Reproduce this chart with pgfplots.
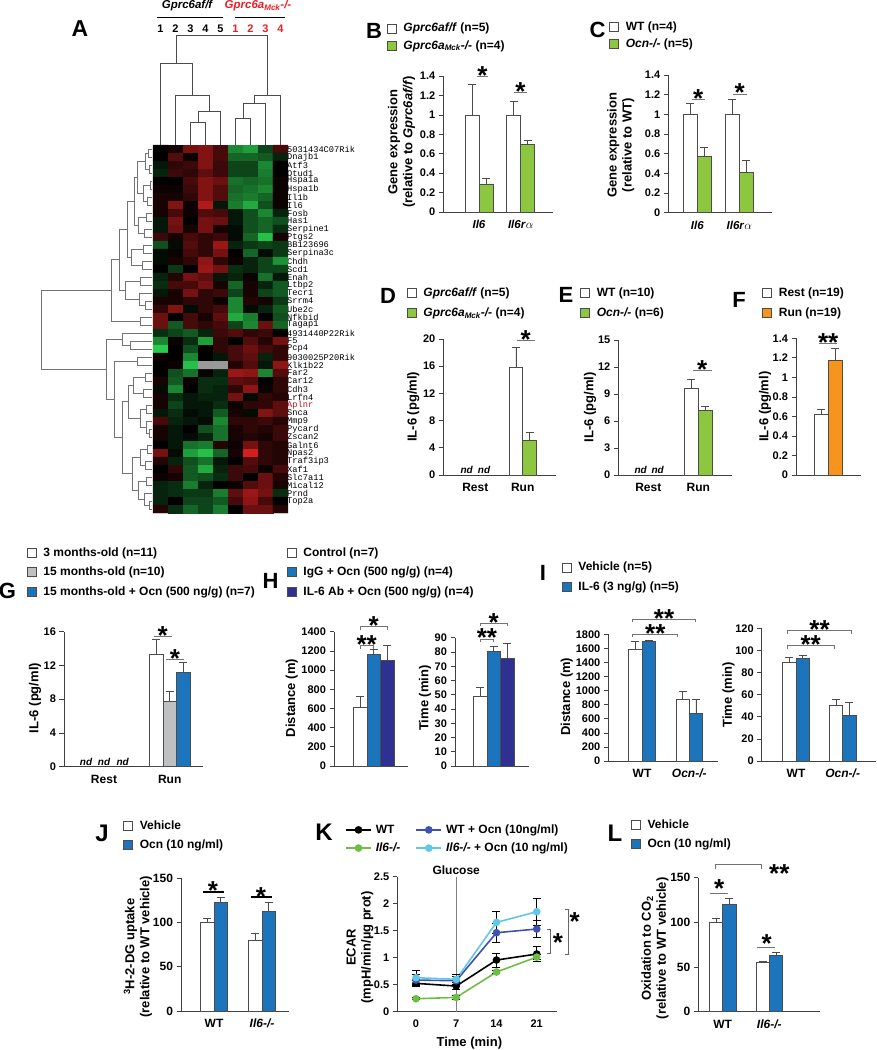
\documentclass[border=0pt]{standalone}
\usepackage{pgfplots}
\pgfplotsset{compat=1.18}
\usepackage{fontspec}
\setmainfont{Liberation Sans}
\newfontfamily\genefont{Liberation Mono}

\definecolor{hgreen}{RGB}{141,198,63}
\definecolor{horange}{RGB}{247,148,29}
\definecolor{hgray}{RGB}{190,192,194}
\definecolor{hblue}{RGB}{28,117,188}
\definecolor{hnavy}{RGB}{46,49,146}
\definecolor{kblue}{RGB}{63,81,181}
\definecolor{kgreen}{RGB}{110,190,70}
\definecolor{kcyan}{RGB}{95,200,230}
\definecolor{hred}{RGB}{237,28,36}

\newcommand{\tfont}{\bfseries\fontsize{11}{12}\selectfont}
\newcommand{\lfont}{\bfseries\fontsize{13}{15}\selectfont}
\newcommand{\gfont}{\bfseries\fontsize{12}{13}\selectfont}
\newcommand{\pfont}{\bfseries\fontsize{22}{22}\selectfont}

\tikzset{
  sigline/.style={draw=black!55, line width=0.9pt},
  sigstar/.style={font=\bfseries\fontsize{26}{26}\selectfont, anchor=base, yshift=-8pt, inner sep=0pt},
  ndlab/.style={font=\bfseries\itshape\fontsize{10}{10}\selectfont, anchor=south, inner sep=1pt},
  plet/.style={font=\pfont, inner sep=0pt, anchor=center},
  cnum/.style={font=\bfseries\fontsize{11}{11}\selectfont},
}
\pgfplotsset{
  panel/.style={
    scale only axis, anchor=south west, clip=false,
    axis x line*=bottom, axis y line*=left,
    axis line style={black!75, line width=0.7pt},
    ymin=0,
    tick align=outside, major tick length=4.5pt,
    ytick style={black!75, line width=0.7pt},
    xtick style={draw=none},
    tick label style={font=\tfont},
    xticklabel style={font=\bfseries\fontsize{12}{13}\selectfont},
    label style={font=\lfont},
    ylabel style={align=center},
    /pgf/number format/assume math mode=true,
    /pgf/number format/1000 sep={},
    scaled y ticks=false,
    legend cell align=left,
    legend style={draw=none, fill=none, font=\gfont, inner sep=0pt, row sep=3pt,
      anchor=north west, /tikz/every odd column/.append style={column sep=5pt}},
  },
  bl/.style={legend image code/.code={\draw[##1] (0pt,-4.5pt) rectangle (9pt,4.5pt);}},
  wbar/.style={fill=white, draw=black!70, line width=0.6pt, bl},
  gbar/.style={fill=hgreen, draw=black!70, line width=0.6pt, bl},
  obar/.style={fill=horange, draw=black!70, line width=0.6pt, bl},
  sbar/.style={fill=hgray, draw=black!70, line width=0.6pt, bl},
  bbar/.style={fill=hblue, draw=black!70, line width=0.6pt, bl},
  nbar/.style={fill=hnavy, draw=black!70, line width=0.6pt, bl},
  ebar/.style={error bars/.cd, y dir=plus, y explicit,
    error bar style={black!70, line width=0.6pt},
    error mark options={rotate=90, black!70, mark size=4pt, line width=0.6pt}},
  kline/.style={line width=1.6pt, mark=*, mark size=3pt,
    error bars/.cd, y dir=both, y explicit, error bar style={black, line width=0.7pt},
    error mark options={rotate=90, black, mark size=4pt, line width=0.7pt}},
  dend/.style={draw=black!70, line width=0.6pt, forget plot},
  dendl/.style={draw=black!55, line width=0.7pt, forget plot},
}
\newcommand{\dt}[5]{\addplot[dend] coordinates {(#2,#1) (#2,#3) (#4,#3) (#4,#5)};}
\newcommand{\dl}[5]{\addplot[dendl] coordinates {(#1,#2) (#3,#2) (#3,#4) (#5,#4)};}

\begin{document}
\begin{tikzpicture}
\path[use as bounding box] (0pt,0pt) rectangle (876pt,-1050pt);

% ---------------- Panel A: heatmap ----------------
\begin{axis}[scale only axis, anchor=south west, at={(153pt,-513pt)}, width=135pt, height=368pt,
  xmin=0, xmax=9, ymin=0, ymax=46, y dir=reverse, clip=false,
  axis line style={draw=none}, xtick=\empty,
  ytick={0.5,1.5,...,44.5}, yticklabel pos=right,
  ytick style={draw=none},
  yticklabel style={font=\genefont\fontsize{8.7}{8.7}\selectfont, anchor=west, xshift=-2pt, inner sep=1pt},
  yticklabels={5031434C07Rik,Dnajb1,Atf3,Otud1,Hspa1a,Hspa1b,Il1b,Il6,Fosb,Has1,Serpine1,Ptgs2,BB123696,Serpina3c,Chdh,Scd1,Enah,Ltbp2,Tecr1,Srrm4,Ube2c,Nfkbid,Tagap1,4931440P22Rik,F5,Pcp4,9030025P20Rik,Klk1b22,Far2,Car12,Cdh3,Lrfn4,\textcolor{hred!80!black}{Aplnr},Snca,Mmp9,Pycard,Zscan2,Galnt6,Npas2,Traf3ip3,Xaf1,Slc7a11,Mical12,Prnd,Top2a},
  colormap={rg}{rgb255=(45,225,85) rgb255=(0,0,0) rgb255=(235,35,35)},
  point meta min=-1, point meta max=1,
]
\addplot[matrix plot*, mesh/cols=9, point meta=explicit] coordinates {
(0.5,0.5)[0] (1.5,0.5)[0.1] (2.5,0.5)[0.5] (3.5,0.5)[0.55] (4.5,0.5)[0.3] (5.5,0.5)[-0.6] (6.5,0.5)[-0.7] (7.5,0.5)[-0.3] (8.5,0.5)[0.3]
(0.5,1.5)[0] (1.5,1.5)[0.35] (2.5,1.5)[0.05] (3.5,1.5)[0.55] (4.5,1.5)[0.3] (5.5,1.5)[-0.45] (6.5,1.5)[-0.45] (7.5,1.5)[-0.4] (8.5,1.5)[-0.15]
(0.5,2.5)[-0.1] (1.5,2.5)[0.2] (2.5,2.5)[0.25] (3.5,2.5)[0.55] (4.5,2.5)[0.25] (5.5,2.5)[-0.3] (6.5,2.5)[-0.3] (7.5,2.5)[-0.6] (8.5,2.5)[0]
(0.5,3.5)[-0.15] (1.5,3.5)[0.25] (2.5,3.5)[0.2] (3.5,3.5)[0.4] (4.5,3.5)[0.25] (5.5,3.5)[-0.3] (6.5,3.5)[-0.3] (7.5,3.5)[-0.55] (8.5,3.5)[0]
(0.5,4.5)[0] (1.5,4.5)[0] (2.5,4.5)[0.3] (3.5,4.5)[0.55] (4.5,4.5)[0.45] (5.5,4.5)[-0.5] (6.5,4.5)[-0.45] (7.5,4.5)[-0.5] (8.5,4.5)[0.05]
(0.5,5.5)[0.05] (1.5,5.5)[0.05] (2.5,5.5)[0.25] (3.5,5.5)[0.55] (4.5,5.5)[0.35] (5.5,5.5)[-0.45] (6.5,5.5)[-0.5] (7.5,5.5)[-0.6] (8.5,5.5)[0.05]
(0.5,6.5)[0.1] (1.5,6.5)[0.1] (2.5,6.5)[0.2] (3.5,6.5)[0.55] (4.5,6.5)[0.35] (5.5,6.5)[-0.5] (6.5,6.5)[-0.55] (7.5,6.5)[-0.45] (8.5,6.5)[0.05]
(0.5,7.5)[0.1] (1.5,7.5)[0.55] (2.5,7.5)[0.05] (3.5,7.5)[0.75] (4.5,7.5)[-0.1] (5.5,7.5)[-0.55] (6.5,7.5)[-0.75] (7.5,7.5)[-0.35] (8.5,7.5)[0.05]
(0.5,8.5)[0.1] (1.5,8.5)[0.3] (2.5,8.5)[0.05] (3.5,8.5)[0.35] (4.5,8.5)[0.3] (5.5,8.5)[-0.1] (6.5,8.5)[-0.35] (7.5,8.5)[-0.6] (8.5,8.5)[-0.15]
(0.5,9.5)[-0.1] (1.5,9.5)[0.5] (2.5,9.5)[0] (3.5,9.5)[0.5] (4.5,9.5)[0.45] (5.5,9.5)[-0.1] (6.5,9.5)[-0.35] (7.5,9.5)[-0.45] (8.5,9.5)[-0.35]
(0.5,10.5)[-0.1] (1.5,10.5)[0.45] (2.5,10.5)[0.1] (3.5,10.5)[0.5] (4.5,10.5)[0.1] (5.5,10.5)[-0.05] (6.5,10.5)[-0.35] (7.5,10.5)[-0.45] (8.5,10.5)[-0.2]
(0.5,11.5)[0.25] (1.5,11.5)[0.1] (2.5,11.5)[0.3] (3.5,11.5)[0.2] (4.5,11.5)[0.25] (5.5,11.5)[-0.05] (6.5,11.5)[-0.45] (7.5,11.5)[-0.85] (8.5,11.5)[0.1]
(0.5,12.5)[-0.35] (1.5,12.5)[-0.05] (2.5,12.5)[0.35] (3.5,12.5)[0.2] (4.5,12.5)[0.65] (5.5,12.5)[-0.15] (6.5,12.5)[-0.25] (7.5,12.5)[-0.3] (8.5,12.5)[-0.25]
(0.5,13.5)[-0.05] (1.5,13.5)[0.05] (2.5,13.5)[0.3] (3.5,13.5)[0.2] (4.5,13.5)[0.5] (5.5,13.5)[0] (6.5,13.5)[-0.45] (7.5,13.5)[-0.05] (8.5,13.5)[-0.25]
(0.5,14.5)[-0.05] (1.5,14.5)[0.1] (2.5,14.5)[0.2] (3.5,14.5)[0.6] (4.5,14.5)[0.2] (5.5,14.5)[0.05] (6.5,14.5)[-0.15] (7.5,14.5)[-0.3] (8.5,14.5)[-0.65]
(0.5,15.5)[0] (1.5,15.5)[-0.25] (2.5,15.5)[0] (3.5,15.5)[0.65] (4.5,15.5)[0.5] (5.5,15.5)[-0.2] (6.5,15.5)[-0.15] (7.5,15.5)[-0.3] (8.5,15.5)[-0.3]
(0.5,16.5)[-0.15] (1.5,16.5)[0.15] (2.5,16.5)[0.5] (3.5,16.5)[0.4] (4.5,16.5)[-0.1] (5.5,16.5)[-0.15] (6.5,16.5)[0.05] (7.5,16.5)[-0.5] (8.5,16.5)[-0.1]
(0.5,17.5)[-0.2] (1.5,17.5)[0.3] (2.5,17.5)[0.3] (3.5,17.5)[0.5] (4.5,17.5)[0.1] (5.5,17.5)[-0.45] (6.5,17.5)[0.1] (7.5,17.5)[-0.15] (8.5,17.5)[-0.4]
(0.5,18.5)[-0.1] (1.5,18.5)[0.1] (2.5,18.5)[0.5] (3.5,18.5)[0.2] (4.5,18.5)[0.25] (5.5,18.5)[-0.3] (6.5,18.5)[0.1] (7.5,18.5)[-0.3] (8.5,18.5)[-0.4]
(0.5,19.5)[0.1] (1.5,19.5)[0.1] (2.5,19.5)[0.2] (3.5,19.5)[0.2] (4.5,19.5)[0.05] (5.5,19.5)[-0.6] (6.5,19.5)[0.15] (7.5,19.5)[0.1] (8.5,19.5)[-0.25]
(0.5,20.5)[0.2] (1.5,20.5)[0.55] (2.5,20.5)[-0.05] (3.5,20.5)[0.2] (4.5,20.5)[0.3] (5.5,20.5)[-0.6] (6.5,20.5)[-0.05] (7.5,20.5)[-0.15] (8.5,20.5)[-0.4]
(0.5,21.5)[0.45] (1.5,21.5)[0] (2.5,21.5)[0.3] (3.5,21.5)[0.1] (4.5,21.5)[0.4] (5.5,21.5)[-0.75] (6.5,21.5)[-0.55] (7.5,21.5)[0] (8.5,21.5)[-0.35]
(0.5,22.5)[0.45] (1.5,22.5)[-0.4] (2.5,22.5)[0.3] (3.5,22.5)[0.2] (4.5,22.5)[0.3] (5.5,22.5)[-0.3] (6.5,22.5)[-0.6] (7.5,22.5)[0.45] (8.5,22.5)[-0.45]
(0.5,23.5)[-0.2] (1.5,23.5)[-0.3] (2.5,23.5)[-0.4] (3.5,23.5)[-0.15] (4.5,23.5)[0.25] (5.5,23.5)[0.35] (6.5,23.5)[0.2] (7.5,23.5)[0.25] (8.5,23.5)[0]
(0.5,24.5)[-0.6] (1.5,24.5)[0.05] (2.5,24.5)[-0.2] (3.5,24.5)[-0.7] (4.5,24.5)[0.2] (5.5,24.5)[0] (6.5,24.5)[0.35] (7.5,24.5)[0.15] (8.5,24.5)[0.5]
(0.5,25.5)[-0.9] (1.5,25.5)[0] (2.5,25.5)[-0.35] (3.5,25.5)[0] (4.5,25.5)[0.2] (5.5,25.5)[0.3] (6.5,25.5)[0.45] (7.5,25.5)[0.3] (8.5,25.5)[0.2]
(0.5,26.5)[0.05] (1.5,26.5)[0] (2.5,26.5)[-0.6] (3.5,26.5)[0] (4.5,26.5)[-0.1] (5.5,26.5)[0.3] (6.5,26.5)[0.4] (7.5,26.5)[-0.15] (8.5,26.5)[0.2]
(0.5,27.5)[0] (1.5,27.5)[0.05] (2.5,27.5)[-0.85] (3.5,27.5)[0] (4.5,27.5)[0] (5.5,27.5)[0.15] (6.5,27.5)[0.35] (7.5,27.5)[-0.1] (8.5,27.5)[0.6]
(0.5,28.5)[0] (1.5,28.5)[-0.35] (2.5,28.5)[-0.5] (3.5,28.5)[0.05] (4.5,28.5)[-0.15] (5.5,28.5)[0.65] (6.5,28.5)[0.6] (7.5,28.5)[-0.6] (8.5,28.5)[0.35]
(0.5,29.5)[0.1] (1.5,29.5)[-0.4] (2.5,29.5)[0.05] (3.5,29.5)[-0.2] (4.5,29.5)[-0.2] (5.5,29.5)[0.4] (6.5,29.5)[0.35] (7.5,29.5)[0] (8.5,29.5)[0.2]
(0.5,30.5)[-0.05] (1.5,30.5)[-0.6] (2.5,30.5)[0] (3.5,30.5)[-0.2] (4.5,30.5)[-0.15] (5.5,30.5)[0.2] (6.5,30.5)[0.6] (7.5,30.5)[0.05] (8.5,30.5)[0.2]
(0.5,31.5)[0.1] (1.5,31.5)[-0.2] (2.5,31.5)[-0.1] (3.5,31.5)[-0.15] (4.5,31.5)[-0.15] (5.5,31.5)[0.5] (6.5,31.5)[-0.05] (7.5,31.5)[0.2] (8.5,31.5)[0.15]
(0.5,32.5)[0.1] (1.5,32.5)[-0.3] (2.5,32.5)[-0.1] (3.5,32.5)[-0.1] (4.5,32.5)[-0.2] (5.5,32.5)[0.05] (6.5,32.5)[0.2] (7.5,32.5)[0.2] (8.5,32.5)[0.4]
(0.5,33.5)[-0.1] (1.5,33.5)[-0.2] (2.5,33.5)[-0.05] (3.5,33.5)[-0.1] (4.5,33.5)[-0.4] (5.5,33.5)[0.1] (6.5,33.5)[-0.05] (7.5,33.5)[0.55] (8.5,33.5)[0.4]
(0.5,34.5)[0.3] (1.5,34.5)[-0.15] (2.5,34.5)[-0.1] (3.5,34.5)[-0.05] (4.5,34.5)[-0.6] (5.5,34.5)[0.2] (6.5,34.5)[0.2] (7.5,34.5)[0.25] (8.5,34.5)[0.15]
(0.5,35.5)[0.1] (1.5,35.5)[-0.1] (2.5,35.5)[0] (3.5,35.5)[-0.35] (4.5,35.5)[-0.5] (5.5,35.5)[0.1] (6.5,35.5)[0.2] (7.5,35.5)[0.15] (8.5,35.5)[0.25]
(0.5,36.5)[0.1] (1.5,36.5)[-0.1] (2.5,36.5)[-0.05] (3.5,36.5)[-0.15] (4.5,36.5)[-0.5] (5.5,36.5)[0.1] (6.5,36.5)[0.15] (7.5,36.5)[0.1] (8.5,36.5)[0.25]
(0.5,37.5)[0] (1.5,37.5)[-0.1] (2.5,37.5)[-0.5] (3.5,37.5)[-0.55] (4.5,37.5)[0.15] (5.5,37.5)[0.05] (6.5,37.5)[0.5] (7.5,37.5)[0.2] (8.5,37.5)[0.15]
(0.5,38.5)[0.5] (1.5,38.5)[-0.05] (2.5,38.5)[-0.7] (3.5,38.5)[-0.85] (4.5,38.5)[-0.45] (5.5,38.5)[0.1] (6.5,38.5)[0.9] (7.5,38.5)[0.2] (8.5,38.5)[0.15]
(0.5,39.5)[0.15] (1.5,39.5)[-0.15] (2.5,39.5)[-0.35] (3.5,39.5)[-0.5] (4.5,39.5)[-0.1] (5.5,39.5)[0] (6.5,39.5)[0.35] (7.5,39.5)[0.2] (8.5,39.5)[0.15]
(0.5,40.5)[0] (1.5,40.5)[0.2] (2.5,40.5)[-0.4] (3.5,40.5)[-0.75] (4.5,40.5)[-0.15] (5.5,40.5)[0.25] (6.5,40.5)[0.3] (7.5,40.5)[0.05] (8.5,40.5)[0.3]
(0.5,41.5)[0.05] (1.5,41.5)[0.1] (2.5,41.5)[-0.4] (3.5,41.5)[-0.35] (4.5,41.5)[-0.2] (5.5,41.5)[0.25] (6.5,41.5)[0] (7.5,41.5)[0.45] (8.5,41.5)[0.15]
(0.5,42.5)[-0.15] (1.5,42.5)[-0.2] (2.5,42.5)[-0.55] (3.5,42.5)[-0.15] (4.5,42.5)[0] (5.5,42.5)[0.05] (6.5,42.5)[0.35] (7.5,42.5)[0.45] (8.5,42.5)[0.1]
(0.5,43.5)[-0.15] (1.5,43.5)[-0.2] (2.5,43.5)[-0.25] (3.5,43.5)[-0.25] (4.5,43.5)[-0.55] (5.5,43.5)[0.4] (6.5,43.5)[0.65] (7.5,43.5)[0.5] (8.5,43.5)[-0.2]
(0.5,44.5)[-0.15] (1.5,44.5)[0] (2.5,44.5)[-0.3] (3.5,44.5)[-0.3] (4.5,44.5)[-0.4] (5.5,44.5)[0.3] (6.5,44.5)[0.6] (7.5,44.5)[0.3] (8.5,44.5)[0]
(0.5,45.5)[0.15] (1.5,45.5)[-0.2] (2.5,45.5)[-0.45] (3.5,45.5)[-0.3] (4.5,45.5)[-0.55] (5.5,45.5)[0] (6.5,45.5)[0.45] (7.5,45.5)[0.45] (8.5,45.5)[0.15]
};
\addplot[fill=black!40, draw=none, forget plot] coordinates {(3,27) (5,27) (5,28) (3,28) (3,27)};
% column dendrogram
\dt{0}{2.5}{-2.84}{3.5}{0}
\dt{-2.84}{3.0}{-4.25}{4.5}{0}
\dt{0}{1.5}{-6.16}{3.75}{-4.25}
\dt{0}{0.5}{-10.21}{2.625}{-6.16}
\dt{0}{5.5}{-3.34}{6.5}{0}
\dt{-3.34}{6.0}{-5.21}{7.5}{0}
\dt{-5.21}{6.75}{-6.16}{8.5}{0}
\dt{-10.21}{1.5625}{-13.66}{7.625}{-6.16}
% headers
\node[font=\bfseries\itshape\fontsize{11.5}{12}\selectfont] at (axis cs:2.27,-17.4) {Gprc6af/f};
\node[font=\bfseries\itshape\fontsize{11.5}{12}\selectfont, text=hred] at (axis cs:7.0,-17.4) {Gprc6a\textsubscript{Mck}-/-};
\draw[black, line width=1pt] (axis cs:0.27,-16) -- (axis cs:4.67,-16);
\draw[black, line width=1pt] (axis cs:5.47,-16) -- (axis cs:8.8,-16);
\node[cnum] at (axis cs:0.5,-14.5) {1};
\node[cnum] at (axis cs:1.5,-14.5) {2};
\node[cnum] at (axis cs:2.5,-14.5) {3};
\node[cnum] at (axis cs:3.5,-14.5) {4};
\node[cnum] at (axis cs:4.5,-14.5) {5};
\node[cnum, text=hred] at (axis cs:5.5,-14.5) {1};
\node[cnum, text=hred] at (axis cs:6.5,-14.5) {2};
\node[cnum, text=hred] at (axis cs:7.5,-14.5) {3};
\node[cnum, text=hred] at (axis cs:8.5,-14.5) {4};
\end{axis}

% row dendrogram
\begin{axis}[scale only axis, anchor=south west, at={(0pt,-513pt)}, width=153pt, height=368pt,
  xmin=0, xmax=153, ymin=0, ymax=46, y dir=reverse, hide axis, clip=false]
\dl{152}{0.5}{148}{1.5}{152}
\dl{152}{2.5}{149}{3.5}{152}
\dl{148}{1.0}{145}{3.0}{149}
\dl{152}{4.5}{150}{5.5}{152}
\dl{152}{6.5}{147}{7.5}{152}
\dl{150}{5.0}{143}{7.0}{147}
\dl{145}{2.0}{137}{6.0}{143}
\dl{152}{8.5}{146}{9.5}{152}
\dl{152}{10.5}{144}{11.5}{152}
\dl{146}{9.0}{138}{11.0}{144}
\dl{137}{4.0}{134}{10.0}{138}
\dl{152}{12.5}{143}{13.5}{152}
\dl{152}{14.5}{142}{15.5}{152}
\dl{143}{13.0}{131}{15.0}{142}
\dl{134}{7.0}{127}{14.0}{131}
\dl{152}{16.5}{140}{17.5}{152}
\dl{152}{19.5}{145}{20.5}{152}
\dl{152}{18.5}{139}{20.0}{145}
\dl{140}{17.0}{125}{19.25}{139}
\dl{127}{10.5}{119}{18.125}{125}
\dl{152}{21.5}{140}{22.5}{152}
\dl{119}{14.31}{111}{22.0}{140}
\dl{152}{24.5}{130}{25.5}{152}
\dl{152}{23.5}{122}{25.0}{130}
\dl{152}{26.5}{137}{27.5}{152}
\dl{152}{28.5}{145}{29.5}{152}
\dl{152}{30.5}{143}{31.5}{152}
\dl{145}{29.0}{133}{31.0}{143}
\dl{152}{32.5}{146}{33.5}{152}
\dl{152}{35.5}{149}{36.5}{152}
\dl{152}{34.5}{146}{36.0}{149}
\dl{146}{33.0}{140}{35.25}{146}
\dl{133}{30.0}{128}{34.125}{140}
\dl{152}{37.5}{147}{38.5}{152}
\dl{152}{39.5}{145}{40.5}{152}
\dl{147}{38.0}{140}{40.0}{145}
\dl{152}{41.5}{146}{42.5}{152}
\dl{152}{44.5}{149}{45.5}{152}
\dl{152}{43.5}{144}{45.0}{149}
\dl{146}{42.0}{138}{44.25}{144}
\dl{140}{39.0}{132}{43.125}{138}
\dl{128}{32.06}{122}{41.06}{132}
\dl{137}{27.0}{114}{36.56}{122}
\dl{122}{24.25}{106}{31.78}{114}
\dl{111}{18.16}{41.7}{28.02}{106}
\end{axis}
\node[plet, font=\bfseries\fontsize{23}{23}\selectfont] at (80pt,-29pt) {A};

% ---------------- Panel B ----------------
\begin{axis}[panel, at={(443.3pt,-212pt)}, width=110pt, height=136pt,
  xmin=0, xmax=110, ymax=1.4, ytick={0,0.2,0.4,0.6,0.8,1,1.2,1.4},
  ybar=0pt, bar width=14pt,
  xtick={35.7,77.4}, xticklabels={\textit{Il6},\textit{Il6r}$\alpha$},
  xticklabel style={font=\bfseries\fontsize{11.5}{12}\selectfont},
  ylabel={Gene expression\\(relative to \textit{Gprc6af/f})},
  ylabel style={at={(axis description cs:-0.38,0.515)}, anchor=center},
  legend style={at={(axis description cs:-0.515,1.404)}}]
\addplot[wbar, ebar] coordinates {(35.7,1.0) +- (0,0.31) (77.4,1.0) +- (0,0.14)};
\addplot[gbar, ebar] coordinates {(35.7,0.29) +- (0,0.06) (77.4,0.70) +- (0,0.04)};
\legend{\textit{Gprc6af/f} (n=5), \textit{Gprc6a\textsubscript{Mck}-/-} (n=4)}
\draw[sigline] (axis cs:33.4,1.4) -- (axis cs:45,1.4);
\node[sigstar] at (axis cs:39.2,1.4) {*};
\draw[sigline] (axis cs:70.7,1.228) -- (axis cs:83.7,1.228);
\node[sigstar] at (axis cs:77.2,1.228) {*};
\end{axis}
\node[plet] at (374pt,-31pt) {B};

% ---------------- Panel C ----------------
\begin{axis}[panel, at={(668.3pt,-212.7pt)}, width=103.4pt, height=137.7pt,
  xmin=0, xmax=103.4, ymax=1.4, ytick={0,0.2,0.4,0.6,0.8,1,1.2,1.4},
  ybar=0pt, bar width=14pt,
  xtick={29,71}, xticklabels={\textit{Il6},\textit{Il6r}$\alpha$},
  xticklabel style={font=\bfseries\fontsize{11.5}{12}\selectfont},
  ylabel={Gene expression\\(relative to WT)},
  ylabel style={at={(axis description cs:-0.459,0.49)}, anchor=center},
  legend style={at={(axis description cs:-0.573,1.401)}}]
\addplot[wbar, ebar] coordinates {(29,1.0) +- (0,0.11) (71,1.0) +- (0,0.15)};
\addplot[gbar, ebar] coordinates {(29,0.57) +- (0,0.10) (71,0.41) +- (0,0.12)};
\legend{WT (n=4), \textit{Ocn-/-} (n=5)}
\draw[sigline] (axis cs:23.4,1.153) -- (axis cs:36.7,1.153);
\node[sigstar] at (axis cs:30,1.153) {*};
\draw[sigline] (axis cs:64.7,1.207) -- (axis cs:78.4,1.207);
\node[sigstar] at (axis cs:71.5,1.207) {*};
\end{axis}
\node[plet] at (597.5pt,-30pt) {C};

% ---------------- Panel D ----------------
\begin{axis}[panel, at={(443.3pt,-475pt)}, width=112.7pt, height=136pt,
  xmin=0, xmax=112.7, ymax=20, ytick={0,4,8,12,16,20},
  ybar=0pt, bar width=13.7pt,
  xtick={32,79.4}, xticklabels={Rest,Run},
  ylabel={IL-6 (pg/ml)},
  ylabel style={at={(axis description cs:-0.266,0.502)}, anchor=center},
  legend style={at={(axis description cs:-0.325,1.392)}, row sep=6pt}]
\addplot[wbar, ebar] coordinates {(79.4,15.9) +- (0,2.9)};
\addplot[gbar, ebar] coordinates {(79.4,5.1) +- (0,1.2)};
\legend{\textit{Gprc6af/f} (n=5), \textit{Gprc6a\textsubscript{Mck}-/-} (n=4)}
\node[ndlab] at (axis cs:23.4,0) {nd};
\node[ndlab] at (axis cs:40.7,0) {nd};
\draw[sigline] (axis cs:73.4,19.75) -- (axis cs:91.7,19.75);
\node[sigstar] at (axis cs:82.5,19.75) {*};
\end{axis}
\node[plet] at (388pt,-295.5pt) {D};

% ---------------- Panel E ----------------
\begin{axis}[panel, at={(618.3pt,-475pt)}, width=113.4pt, height=135pt,
  xmin=0, xmax=113.4, ymax=15, ytick={0,3,6,9,12,15},
  ybar=0pt, bar width=13.7pt,
  xtick={30,80}, xticklabels={Rest,Run},
  ylabel={IL-6 (pg/ml)},
  ylabel style={at={(axis description cs:-0.25,0.5)}, anchor=center},
  legend style={at={(axis description cs:-0.338,1.402)}, row sep=6pt}]
\addplot[wbar, ebar] coordinates {(80,9.63) +- (0,0.97)};
\addplot[gbar, ebar] coordinates {(80,7.22) +- (0,0.45)};
\legend{WT (n=10), \textit{Ocn-/-} (n=6)}
\node[ndlab] at (axis cs:22.4,0) {nd};
\node[ndlab] at (axis cs:39.4,0) {nd};
\draw[sigline] (axis cs:74.7,11.59) -- (axis cs:93.4,11.59);
\node[sigstar] at (axis cs:84,11.59) {*};
\end{axis}
\node[plet] at (566pt,-295pt) {E};

% ---------------- Panel F ----------------
\begin{axis}[panel, at={(796pt,-475pt)}, width=64.7pt, height=136.7pt,
  xmin=0, xmax=64.7, ymax=1.4, ytick={0,0.2,0.4,0.6,0.8,1,1.2,1.4},
  ybar=0pt, bar width=14pt,
  xtick=\empty,
  ylabel={IL-6 (pg/ml)},
  ylabel style={at={(axis description cs:-0.479,0.5)}, anchor=center},
  legend style={at={(axis description cs:-0.525,1.385)}, row sep=6pt}]
\addplot[wbar, ebar] coordinates {(32.3,0.62) +- (0,0.05)};
\addplot[obar, ebar] coordinates {(32.3,1.17) +- (0,0.13)};
\legend{Rest (n=19), Run (n=19)}
\draw[sigline] (axis cs:23,1.349) -- (axis cs:41.3,1.349);
\node[sigstar] at (axis cs:32.2,1.349) {**};
\end{axis}
\node[plet] at (739pt,-300pt) {F};

% ---------------- Panel G ----------------
\begin{axis}[panel, at={(64pt,-766.7pt)}, width=138.7pt, height=135pt,
  xmin=0, xmax=138.7, ymax=16, ytick={0,4,8,12,16},
  ybar=0pt, bar width=13.5pt,
  xtick={40,105.7}, xticklabels={Rest,Run},
  ylabel={IL-6 (pg/ml)},
  ylabel style={at={(axis description cs:-0.209,0.509)}, anchor=center},
  legend style={at={(axis description cs:-0.269,1.637)}, row sep=5pt}]
\addplot[wbar, ebar] coordinates {(105.7,13.35) +- (0,1.75)};
\addplot[sbar, ebar] coordinates {(105.7,7.7) +- (0,1.27)};
\addplot[bbar, ebar] coordinates {(105.7,11.18) +- (0,1.15)};
\legend{3 months-old (n=11), 15 months-old (n=10), 15 months-old + Ocn (500 ng/g) (n=7)}
\node[ndlab] at (axis cs:22,0) {nd};
\node[ndlab] at (axis cs:40,0) {nd};
\node[ndlab] at (axis cs:58.7,0) {nd};
\draw[sigline] (axis cs:90,15.49) -- (axis cs:107.7,15.49);
\node[sigstar] at (axis cs:98.8,15.49) {*};
\draw[sigline] (axis cs:102,12.76) -- (axis cs:120,12.76);
\node[sigstar] at (axis cs:111,12.76) {*};
\end{axis}
\node[plet] at (7.5pt,-590.5pt) {G};

% ---------------- Panel H ----------------
\begin{axis}[panel, at={(334pt,-766pt)}, width=74.3pt, height=134.3pt,
  xmin=0, xmax=74.3, ymax=1400, ytick={0,200,400,600,800,1000,1200,1400},
  ybar=0pt, bar width=13.5pt,
  xtick=\empty,
  ylabel={Distance (m)},
  ylabel style={at={(axis description cs:-0.569,0.506)}, anchor=center},
  legend style={at={(axis description cs:-0.637,1.640)}, row sep=5pt}]
\addplot[wbar, ebar] coordinates {(39.7,611) +- (0,119)};
\addplot[bbar, ebar] coordinates {(39.7,1167) +- (0,52)};
\addplot[nbar, ebar] coordinates {(39.7,1098) +- (0,156)};
\legend{Control (n=7), IgG + Ocn (500 ng/g) (n=4), IL-6 Ab + Ocn (500 ng/g) (n=4)}
\draw[sigline] ([yshift=-3pt]axis cs:26,1256) -- (axis cs:26,1256) -- (axis cs:39.3,1256) -- ([yshift=-3pt]axis cs:39.3,1256);
\node[sigstar] at (axis cs:32.7,1256) {**};
\draw[sigline] ([yshift=-3pt]axis cs:26,1452) -- (axis cs:26,1452) -- (axis cs:53.3,1452) -- ([yshift=-3pt]axis cs:53.3,1452);
\node[sigstar] at (axis cs:39.7,1452) {*};
\end{axis}
\begin{axis}[panel, at={(455pt,-766pt)}, width=74.3pt, height=128.3pt,
  xmin=0, xmax=74.3, ymax=90, ytick={0,10,20,30,40,50,60,70,80,90},
  ybar=0pt, bar width=13.6pt,
  xtick=\empty,
  ylabel={Time (min)},
  ylabel style={at={(axis description cs:-0.404,0.53)}, anchor=center}]
\addplot[wbar, ebar] coordinates {(38.7,48.6) +- (0,6.3)};
\addplot[bbar, ebar] coordinates {(38.7,80.4) +- (0,3.8)};
\addplot[nbar, ebar] coordinates {(38.7,75.5) +- (0,10.5)};
\draw[sigline] ([yshift=-3pt]axis cs:25,89.1) -- (axis cs:25,89.1) -- (axis cs:38.7,89.1) -- ([yshift=-3pt]axis cs:38.7,89.1);
\node[sigstar] at (axis cs:31.9,89.1) {**};
\draw[sigline] ([yshift=-3pt]axis cs:25,100.1) -- (axis cs:25,100.1) -- (axis cs:52.5,100.1) -- ([yshift=-3pt]axis cs:52.5,100.1);
\node[sigstar] at (axis cs:38.7,100.1) {*};
\end{axis}
\node[plet] at (270.5pt,-581pt) {H};

% ---------------- Panel I ----------------
\begin{axis}[panel, at={(608.3pt,-761pt)}, width=110pt, height=126.7pt,
  xmin=0, xmax=110, ymax=1800, ytick={0,200,400,600,800,1000,1200,1400,1600,1800},
  ybar=0pt, bar width=13.3pt,
  xtick={33.7,81}, xticklabels={WT,\textit{Ocn-/-}},
  ylabel={Distance (m)},
  ylabel style={at={(axis description cs:-0.378,0.507)}, anchor=center},
  legend style={at={(axis description cs:-0.424,1.586)}, row sep=5pt}]
\addplot[wbar, ebar] coordinates {(33.7,1592) +- (0,105) (81,877) +- (0,109)};
\addplot[bbar, ebar] coordinates {(33.7,1701) +- (0,10) (81,682) +- (0,199)};
\legend{Vehicle (n=5), IL-6 (3 ng/g) (n=5)}
\draw[sigline] ([yshift=-3pt]axis cs:24.4,1804) -- (axis cs:24.4,1804) -- (axis cs:69.4,1804) -- ([yshift=-3pt]axis cs:69.4,1804);
\node[sigstar] at (axis cs:47,1804) {**};
\draw[sigline] ([yshift=-3pt]axis cs:24.4,2013) -- (axis cs:24.4,2013) -- (axis cs:87,2013) -- ([yshift=-3pt]axis cs:87,2013);
\node[sigstar] at (axis cs:55.7,2013) {**};
\end{axis}
\begin{axis}[panel, at={(761.7pt,-761pt)}, width=114pt, height=132.7pt,
  xmin=0, xmax=114, ymax=120, ytick={0,20,40,60,80,100,120},
  ybar=0pt, bar width=13.3pt,
  xtick={34.3,81}, xticklabels={WT,\textit{Ocn-/-}},
  ylabel={Time (min)},
  ylabel style={at={(axis description cs:-0.292,0.5)}, anchor=center}]
\addplot[wbar, ebar] coordinates {(34.3,89) +- (0,5) (81,50) +- (0,6)};
\addplot[bbar, ebar] coordinates {(34.3,93) +- (0,3) (81,41) +- (0,12)};
\draw[sigline] ([yshift=-3pt]axis cs:25.6,104.3) -- (axis cs:25.6,104.3) -- (axis cs:72.3,104.3) -- ([yshift=-3pt]axis cs:72.3,104.3);
\node[sigstar] at (axis cs:49,104.3) {**};
\draw[sigline] ([yshift=-3pt]axis cs:25.6,117.8) -- (axis cs:25.6,117.8) -- (axis cs:90,117.8) -- ([yshift=-3pt]axis cs:90,117.8);
\node[sigstar] at (axis cs:57.8,117.8) {**};
\end{axis}
\node[plet] at (543pt,-572.5pt) {I};

% ---------------- Panel J ----------------
\begin{axis}[panel, at={(181pt,-1011pt)}, width=107.6pt, height=132.7pt,
  xmin=0, xmax=107.6, ymax=150, ytick={0,50,100,150},
  ybar=0pt, bar width=13.5pt,
  tick label style={font=\bfseries\fontsize{12}{13}\selectfont},
  xtick={33,81}, xticklabels={WT,\textit{Il6-/-}},
  ylabel={\textsuperscript{3}H-2-DG uptake\\(relative to WT vehicle)},
  ylabel style={at={(axis description cs:-0.40,0.485)}, anchor=center},
  legend style={at={(axis description cs:-0.539,1.449)}, row sep=5pt}]
\addplot[wbar, ebar] coordinates {(33,100) +- (0,4.8) (81,79.5) +- (0,8.3)};
\addplot[bbar, ebar] coordinates {(33,122.5) +- (0,6) (81,112.7) +- (0,10.5)};
\legend{Vehicle, Ocn (10 ng/ml)}
\draw[black, line width=2.2pt] (axis cs:21.6,134.9) -- (axis cs:42.5,134.9);
\node[sigstar] at (axis cs:32,134.9) {*};
\draw[black, line width=2.2pt] (axis cs:69.7,128.5) -- (axis cs:90.6,128.5);
\node[sigstar] at (axis cs:80,128.5) {*};
\end{axis}
\node[plet, font=\bfseries\fontsize{24}{24}\selectfont] at (102pt,-833pt) {J};

% ---------------- Panel K ----------------
\begin{axis}[panel, at={(397.3pt,-1011.7pt)}, width=159.4pt, height=135pt,
  xmin=-3.25, xmax=24.47, ymax=2.5, ytick={0,0.5,1,1.5,2,2.5}, xtick={0,7,14,21},
  xtick style={draw=none},
  xticklabel style={font=\tfont},
  xlabel={Time (min)},
  xlabel style={at={(axis description cs:0.452,-0.234)}, anchor=center},
  ylabel={ECAR\\(mpH/min/µg prot)},
  ylabel style={at={(axis description cs:-0.234,0.476)}, anchor=center},
  legend columns=2,
  legend style={at={(axis description cs:-0.328,1.401)}, row sep=4pt,
    /tikz/every odd column/.append style={column sep=2pt},
    /tikz/every even column/.append style={column sep=13pt}},
  legend image code/.code={\draw[#1,mark repeat=2,mark phase=2] plot coordinates {(0pt,0pt) (12.5pt,0pt) (25pt,0pt)};}]
\addplot[gray, line width=0.5pt, forget plot] coordinates {(7,0) (7,2.5)};
\addplot[black, kline]
  coordinates {(0,0.525) +- (0,0.06) (7,0.475) +- (0,0.07) (14,0.957) +- (0,0.13) (21,1.068) +- (0,0.14)};
\addplot[kblue, kline]
  coordinates {(0,0.586) +- (0,0.10) (7,0.574) +- (0,0.09) (14,1.463) +- (0,0.18) (21,1.531) +- (0,0.16)};
\addplot[kgreen, kline]
  coordinates {(0,0.24) +- (0,0.02) (7,0.265) +- (0,0.03) (14,0.735) +- (0,0.03) (21,1.012) +- (0,0.05)};
\addplot[kcyan, kline]
  coordinates {(0,0.63) +- (0,0.13) (7,0.60) +- (0,0.09) (14,1.654) +- (0,0.21) (21,1.852) +- (0,0.25)};
\legend{WT, WT + Ocn (10ng/ml), \textit{Il6-/-}, \textit{Il6-/-} + Ocn (10 ng/ml)}
\node[font=\bfseries\fontsize{12}{13}\selectfont, anchor=south, inner sep=2pt] at (axis cs:7,2.5) {Glucose};
\draw[black!60, line width=0.7pt] (axis cs:22.8,1.526) -- (axis cs:23.39,1.526) -- (axis cs:23.39,1.081) -- (axis cs:22.8,1.081);
\node[sigstar] at (axis cs:24.7,1.259) {*};
\draw[black!60, line width=0.7pt] (axis cs:25.87,1.896) -- (axis cs:26.44,1.896) -- (axis cs:26.44,1.069) -- (axis cs:25.87,1.069);
\node[sigstar] at (axis cs:27.6,1.643) {*};
\end{axis}
\node[plet, font=\bfseries\fontsize{24}{24}\selectfont] at (324pt,-832pt) {K};

% ---------------- Panel L ----------------
\begin{axis}[panel, at={(698.3pt,-1011.7pt)}, width=121.7pt, height=134pt,
  xmin=0, xmax=121.7, ymax=150, ytick={0,50,100,150},
  ybar=0pt, bar width=13.4pt,
  tick label style={font=\bfseries\fontsize{12}{13}\selectfont},
  xtick={24.4,71}, xticklabels={WT,\textit{Il6-/-}},
  ylabel={Oxidation to CO\textsubscript{2}\\(relative to WT vehicle)},
  ylabel style={at={(axis description cs:-0.356,0.473)}, anchor=center},
  legend style={at={(axis description cs:-0.555,1.449)}, row sep=5pt}]
\addplot[wbar, ebar] coordinates {(24.4,100) +- (0,4.5) (71,55.2) +- (0,1.5)};
\addplot[bbar, ebar] coordinates {(24.4,120.1) +- (0,6.4) (71,63.1) +- (0,2.9)};
\legend{Vehicle, Ocn (10 ng/ml)}
\draw[sigline] (axis cs:11.7,132.5) -- (axis cs:30,132.5);
\node[sigstar, yshift=4pt] at (axis cs:21,132.5) {*};
\draw[sigline] (axis cs:58.4,71.8) -- (axis cs:76.7,71.8);
\node[sigstar, yshift=3pt] at (axis cs:68.4,71.8) {*};
\draw[sigline] ([yshift=-4.5pt]axis cs:16.7,165.2) -- (axis cs:16.7,165.2) -- (axis cs:63.4,165.2) -- ([yshift=-4.5pt]axis cs:63.4,165.2);
\node[sigstar] at (axis cs:81,153.8) {**};
\end{axis}
\node[plet, font=\bfseries\fontsize{24}{24}\selectfont] at (615pt,-833.5pt) {L};
\end{tikzpicture}
\end{document}
